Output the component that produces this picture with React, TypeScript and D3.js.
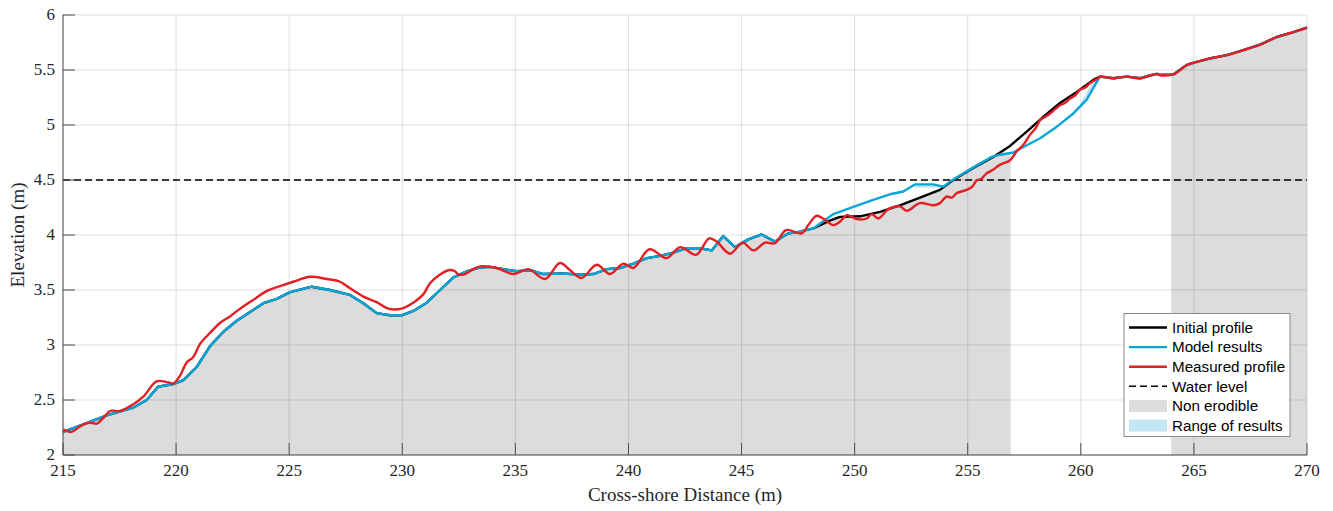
import React from "react";
import * as d3 from "d3";

// Cross-shore profile comparison: initial, modelled and measured beach profiles
// over a non-erodible layer, with the still water level.

const xTicks = [215, 220, 225, 230, 235, 240, 245, 250, 255, 260, 265, 270];
const yTicks = [2, 2.5, 3, 3.5, 4, 4.5, 5, 5.5, 6];

const waterLevel = 4.5;

// Lower profile where the model stays on the initial profile (m, m)
const stableSection: [number, number][] = [
  [215.0, 2.21], [216.05, 2.29], [216.93, 2.36], [218.1, 2.43], [218.7, 2.5],
  [219.2, 2.62], [219.88, 2.645], [220.32, 2.68], [220.91, 2.8], [221.5, 2.99],
  [222.09, 3.12], [222.68, 3.22], [223.27, 3.3], [223.86, 3.38], [224.45, 3.42],
  [225.04, 3.48], [226.0, 3.53], [226.8, 3.5], [227.69, 3.455], [228.28, 3.38],
  [228.87, 3.29], [229.46, 3.27], [229.97, 3.27], [230.49, 3.31], [231.08, 3.385],
  [231.67, 3.5], [232.26, 3.615], [232.85, 3.67], [233.44, 3.705], [233.88, 3.71],
  [234.47, 3.69], [235.06, 3.67], [235.65, 3.68], [236.24, 3.645], [237.12, 3.65],
  [237.86, 3.64], [238.45, 3.645], [239.04, 3.69], [239.63, 3.7], [240.22, 3.74],
  [240.81, 3.79], [241.4, 3.81], [241.98, 3.84], [242.57, 3.88], [243.16, 3.88],
  [243.68, 3.86], [244.19, 3.99], [244.71, 3.89], [245.3, 3.96], [245.89, 4.005],
  [246.48, 3.94], [247.07, 4.015], [247.58, 4.03],
];

// Upper beach plateau shared by all profiles
const upperPlateau: [number, number][] = [
  [260.85, 5.44], [261.44, 5.425], [262.03, 5.44], [262.62, 5.425], [263.06, 5.45],
  [263.36, 5.465], [263.5, 5.455], [264.09, 5.46], [264.68, 5.545], [264.97, 5.565],
  [265.71, 5.605], [266.45, 5.635], [267.18, 5.68], [267.92, 5.73], [268.66, 5.8],
  [269.4, 5.845], [270.0, 5.885],
];

const initialSlope: [number, number][] = [
  [248.17, 4.06], [248.9, 4.13], [249.35, 4.165], [250.24, 4.17], [251.12, 4.21],
  [252.0, 4.27], [252.89, 4.34], [253.77, 4.41], [254.36, 4.5], [255.25, 4.61],
  [256.13, 4.71], [256.87, 4.81], [257.61, 4.94], [258.35, 5.075], [259.08, 5.2],
  [259.82, 5.3], [260.55, 5.41],
];

const modelSlope: [number, number][] = [
  [248.17, 4.06], [249.06, 4.19], [249.94, 4.255], [250.82, 4.32], [251.56, 4.37],
  [252.15, 4.395], [252.66, 4.46], [253.47, 4.46], [253.92, 4.44], [254.36, 4.505],
  [255.25, 4.615], [256.06, 4.71], [256.43, 4.73], [257.02, 4.75], [257.46, 4.8],
  [258.2, 4.88], [258.94, 4.985], [259.67, 5.105], [260.26, 5.23], [260.55, 5.335],
  [260.77, 5.415],
];

const measuredProfile: [number, number][] = [
  [215.0, 2.23], [215.38, 2.21], [215.75, 2.26], [216.05, 2.29], [216.3, 2.29],
  [216.49, 2.285], [216.75, 2.33], [217.08, 2.4], [217.52, 2.4], [218.1, 2.46],
  [218.55, 2.53], [219.14, 2.67], [219.66, 2.66], [219.88, 2.65], [220.17, 2.72],
  [220.47, 2.84], [220.76, 2.89], [221.06, 3.01], [221.5, 3.11], [221.94, 3.2],
  [222.38, 3.26], [222.83, 3.33], [223.41, 3.41], [224.0, 3.49], [224.6, 3.535],
  [225.18, 3.575], [225.92, 3.62], [226.66, 3.6], [227.25, 3.575], [227.69, 3.515],
  [228.28, 3.44], [228.87, 3.39], [229.38, 3.33], [229.97, 3.33], [230.49, 3.385],
  [230.93, 3.46], [231.22, 3.56], [231.67, 3.64], [232.04, 3.68], [232.33, 3.67],
  [232.48, 3.64], [232.77, 3.645], [233.14, 3.69], [233.44, 3.715], [234.17, 3.7],
  [234.91, 3.645], [235.57, 3.69], [236.31, 3.6], [236.97, 3.745], [237.42, 3.68],
  [237.93, 3.61], [238.6, 3.73], [239.18, 3.645], [239.77, 3.74], [240.22, 3.7],
  [240.93, 3.87], [241.69, 3.79], [242.28, 3.89], [242.99, 3.82], [243.57, 3.97],
  [243.9, 3.94], [244.49, 3.83], [245.05, 3.93], [245.52, 3.86], [246.04, 3.93],
  [246.48, 3.925], [246.97, 4.045], [247.66, 4.015], [247.95, 4.09], [248.32, 4.175],
  [248.61, 4.15], [249.06, 4.09], [249.35, 4.12], [249.65, 4.18], [250.09, 4.145],
  [250.53, 4.15], [250.75, 4.19], [251.05, 4.15], [251.49, 4.235], [252.0, 4.26],
  [252.3, 4.22], [252.89, 4.29], [253.47, 4.27], [253.77, 4.29], [254.07, 4.35],
  [254.3, 4.34], [254.51, 4.38], [254.95, 4.41], [255.2, 4.44], [255.39, 4.495],
  [255.6, 4.51], [255.83, 4.56], [256.1, 4.59], [256.43, 4.64], [256.87, 4.68],
  [257.16, 4.76], [257.46, 4.82], [257.75, 4.91], [258.0, 4.97], [258.2, 5.045],
  [258.4, 5.07], [258.64, 5.105], [259.08, 5.18], [259.3, 5.2], [259.52, 5.24],
  [259.75, 5.27], [259.96, 5.32], [260.2, 5.34], [260.4, 5.38], [260.77, 5.425],
];

// Spread of model results: [distance, lower, upper]
const resultRange: [number, number, number][][] = [
  [[252.6, 4.445, 4.45], [252.7, 4.43, 4.46], [253.45, 4.43, 4.46], [253.9, 4.43, 4.44], [254.05, 4.445, 4.45]],
  [[259.9, 5.14, 5.16], [260.2, 5.21, 5.28], [260.5, 5.32, 5.38], [260.75, 5.41, 5.42]],
];

// Extents where the non-erodible layer is at the surface
const nonErodibleSpans: [number, number][] = [[215, 256.9], [264, 270]];

const initialProfile = [...stableSection, ...initialSlope, ...upperPlateau];
const modelProfile = [...stableSection, ...modelSlope, ...upperPlateau];
const measuredFull = [...measuredProfile, ...upperPlateau];

const legendItems = [
  { label: "Initial profile", kind: "line", color: "#000000" },
  { label: "Model results", kind: "line", color: "#0AA6DA" },
  { label: "Measured profile", kind: "line", color: "#E41F24" },
  { label: "Water level", kind: "dash", color: "#000000" },
  { label: "Non erodible", kind: "patch", color: "#DCDCDC" },
  { label: "Range of results", kind: "patch", color: "#C2E6F5" },
];

const W = 1333;
const H = 511;
const plot = { left: 63, right: 1307, top: 15, bottom: 455 };

function interp(profile: [number, number][], x: number): number {
  const xs = profile.map((p) => p[0]);
  const i = d3.bisectLeft(xs, x);
  if (i <= 0) return profile[0][1];
  if (i >= profile.length) return profile[profile.length - 1][1];
  const [x0, y0] = profile[i - 1];
  const [x1, y1] = profile[i];
  const t = (x - x0) / (x1 - x0);
  return y0 + t * (y1 - y0);
}

export default function App() {
  const x = d3.scaleLinear().domain([215, 270]).range([plot.left, plot.right]);
  const y = d3.scaleLinear().domain([2, 6]).range([plot.bottom, plot.top]);

  const line = d3
    .line<[number, number]>()
    .x((d) => x(d[0]))
    .y((d) => y(d[1]));

  const smoothLine = d3
    .line<[number, number]>()
    .x((d) => x(d[0]))
    .y((d) => y(d[1]))
    .curve(d3.curveCatmullRom.alpha(0.5));

  const groundArea = d3
    .area<[number, number]>()
    .x((d) => x(d[0]))
    .y0(y(2))
    .y1((d) => y(d[1]));

  const bandArea = d3
    .area<[number, number, number]>()
    .x((d) => x(d[0]))
    .y0((d) => y(d[1]))
    .y1((d) => y(d[2]));

  // Top of the non-erodible layer: lower of initial and modelled profiles
  const layerTops = nonErodibleSpans.map(([a, b]) => {
    const xs = Array.from(
      new Set([
        a,
        b,
        ...initialProfile.map((p) => p[0]),
        ...modelProfile.map((p) => p[0]),
      ])
    )
      .filter((v) => v >= a && v <= b)
      .sort((p, q) => p - q);
    return xs.map(
      (v) => [v, Math.min(interp(initialProfile, v), interp(modelProfile, v))] as [number, number]
    );
  });

  const serif = "'Liberation Serif', 'Times New Roman', serif";
  const sans = "'Liberation Sans', Arial, Helvetica, sans-serif";
  const gridColor = "rgba(38,38,38,0.15)";
  const axisColor = "#4d4d4d";
  const tickLen = 12;

  const lg = { x: 1124, y: 313.5, w: 166, h: 123, row0: 327.5, step: 19.6 };

  return (
    <svg
      width={W}
      height={H}
      style={{ position: "absolute", left: 0, top: 0, background: "#fff" }}
    >
      {/* non-erodible layer */}
      {layerTops.map((pts, i) => (
        <path key={`ne${i}`} d={groundArea(pts) || ""} fill="#DCDCDC" />
      ))}

      {/* spread of model results */}
      {resultRange.map((pts, i) => (
        <path key={`rr${i}`} d={bandArea(pts) || ""} fill="#C2E6F5" />
      ))}

      {/* grid */}
      {xTicks.map((t) => (
        <line key={`gx${t}`} x1={x(t)} x2={x(t)} y1={plot.top} y2={plot.bottom} stroke={gridColor} strokeWidth={1} />
      ))}
      {yTicks.map((t) => (
        <line key={`gy${t}`} x1={plot.left} x2={plot.right} y1={y(t)} y2={y(t)} stroke={gridColor} strokeWidth={1} />
      ))}

      {/* water level */}
      <line
        x1={plot.left}
        x2={plot.right}
        y1={y(waterLevel)}
        y2={y(waterLevel)}
        stroke="#000"
        strokeWidth={1.5}
        strokeDasharray="7,4"
      />

      {/* profiles */}
      <path d={line(initialProfile) || ""} fill="none" stroke="#000" strokeWidth={2.4} strokeLinejoin="round" />
      <path d={line(modelProfile) || ""} fill="none" stroke="#0AA6DA" strokeWidth={2.4} strokeLinejoin="round" />
      <path d={smoothLine(measuredFull) || ""} fill="none" stroke="#E41F24" strokeWidth={2.4} strokeLinejoin="round" />

      {/* axes */}
      <line x1={plot.left} x2={plot.left} y1={plot.top} y2={plot.bottom} stroke={axisColor} strokeWidth={1} />
      <line x1={plot.left} x2={plot.right} y1={plot.bottom} y2={plot.bottom} stroke={axisColor} strokeWidth={1} />
      {xTicks.map((t) => (
        <g key={`tx${t}`}>
          <line x1={x(t)} x2={x(t)} y1={plot.bottom} y2={plot.bottom - tickLen} stroke={axisColor} strokeWidth={1} />
          <text x={x(t)} y={476} textAnchor="middle" fontFamily={serif} fontSize={17} fill="#262626">
            {t}
          </text>
        </g>
      ))}
      {yTicks.map((t) => (
        <g key={`ty${t}`}>
          <line x1={plot.left} x2={plot.left + tickLen} y1={y(t)} y2={y(t)} stroke={axisColor} strokeWidth={1} />
          <text x={55} y={y(t)} dy="0.3em" textAnchor="end" fontFamily={serif} fontSize={17} fill="#262626">
            {t}
          </text>
        </g>
      ))}

      <text x={(plot.left + plot.right) / 2} y={501} textAnchor="middle" fontFamily={serif} fontSize={19} fill="#262626">
        Cross-shore Distance (m)
      </text>
      <text
        transform={`translate(24, ${(plot.top + plot.bottom) / 2}) rotate(-90)`}
        textAnchor="middle"
        fontFamily={serif}
        fontSize={19}
        fill="#262626"
      >
        Elevation (m)
      </text>

      {/* legend */}
      <rect x={lg.x} y={lg.y} width={lg.w} height={lg.h} fill="#fff" stroke="#8a8a8a" strokeWidth={1} />
      {legendItems.map((it, i) => {
        const cy = lg.row0 + i * lg.step;
        const x0 = 1129;
        const x1 = 1167;
        return (
          <g key={it.label}>
            {it.kind === "line" && (
              <line x1={x0} x2={x1} y1={cy} y2={cy} stroke={it.color} strokeWidth={2.4} />
            )}
            {it.kind === "dash" && (
              <line x1={x0} x2={x1} y1={cy} y2={cy} stroke={it.color} strokeWidth={1.5} strokeDasharray="7,4" />
            )}
            {it.kind === "patch" && <rect x={x0} y={cy - 6} width={x1 - x0} height={12} fill={it.color} />}
            <text x={1172} y={cy} dy="0.35em" fontFamily={sans} fontSize={15.2} fill="#000">
              {it.label}
            </text>
          </g>
        );
      })}
    </svg>
  );
}
